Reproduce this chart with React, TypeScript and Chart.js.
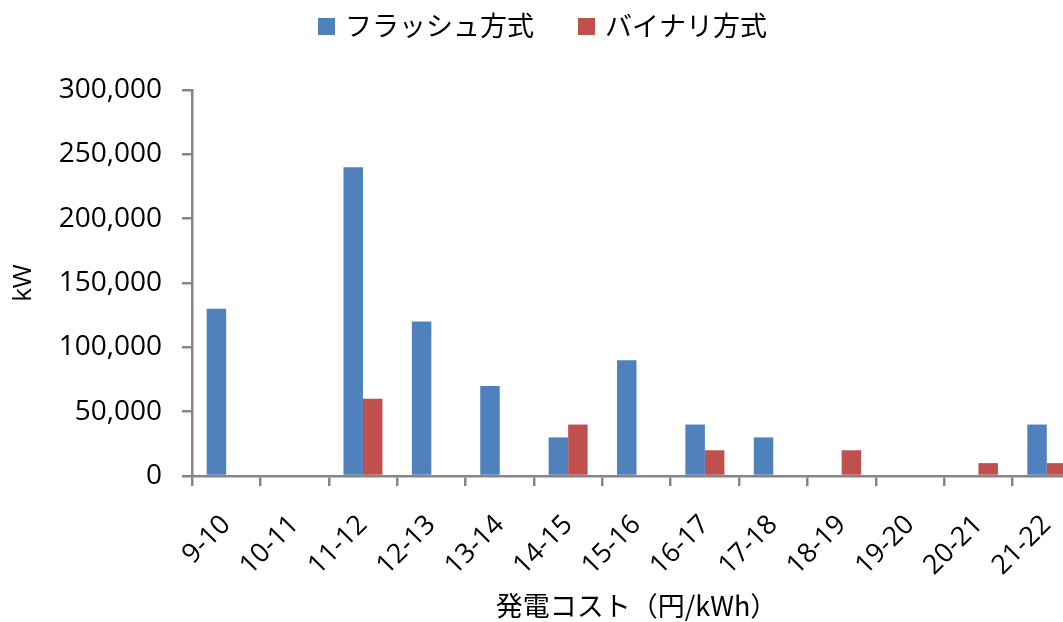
import React, { useEffect, useRef } from 'react';
import { Chart, registerables } from 'chart.js';

Chart.register(...registerables);

const categories = ['9-10', '10-11', '11-12', '12-13', '13-14', '14-15', '15-16', '16-17', '17-18', '18-19', '19-20', '20-21', '21-22'];
const flashValues = [130000, 0, 240000, 120000, 70000, 30000, 90000, 40000, 30000, 0, 0, 0, 40000];
const binaryValues = [0, 0, 60000, 0, 0, 40000, 0, 20000, 0, 20000, 0, 10000, 10000];
const seriesNames = ['フラッシュ方式', 'バイナリ方式'];
const seriesColors = ['#4F81BD', '#C0504D'];
const yMin = 0;
const yMax = 300000;
const yStep = 50000;
const xTitle = '発電コスト（円/kWh）';
const yTitle = 'kW';

const axisColor = '#868686';
const latin = '"Open Sans", "Noto Sans CJK JP", sans-serif';
const cjk = '"Noto Sans CJK JP", sans-serif';

const legendPlugin = {
  id: 'customLegend',
  afterDraw(chart: any) {
    const ctx = chart.ctx;
    ctx.save();
    ctx.font = '27px ' + cjk;
    const box = 17;
    const gapText = 10;
    const gapItem = 44;
    const items = chart.data.datasets.map((ds: any) => ({
      label: ds.label,
      color: ds.backgroundColor,
      w: ctx.measureText(ds.label).width,
    }));
    let x = 318;
    ctx.textBaseline = 'middle';
    ctx.textAlign = 'left';
    items.forEach((it: any) => {
      ctx.fillStyle = it.color;
      ctx.fillRect(x, 18, box, box);
      ctx.fillStyle = '#000';
      ctx.fillText(it.label, x + box + gapText, 26);
      x += box + gapText + it.w + gapItem;
    });
    ctx.restore();
  },
};

export default function App() {
  const ref = useRef<HTMLCanvasElement>(null);

  useEffect(() => {
    if (!ref.current) return;
    const chart = new Chart(ref.current, {
      type: 'bar',
      data: {
        labels: categories,
        datasets: [
          {
            label: seriesNames[0],
            data: flashValues,
            backgroundColor: seriesColors[0],
            borderWidth: 0,
            barPercentage: 1,
            categoryPercentage: 0.57,
          },
          {
            label: seriesNames[1],
            data: binaryValues,
            backgroundColor: seriesColors[1],
            borderWidth: 0,
            barPercentage: 1,
            categoryPercentage: 0.57,
          },
        ],
      },
      options: {
        responsive: false,
        animation: false,
        layout: { padding: { top: 90, right: 19, bottom: 0, left: 0 } },
        plugins: {
          legend: { display: false },
          tooltip: { enabled: false },
        },
        scales: {
          x: {
            grid: {
              display: true,
              drawOnChartArea: false,
              drawTicks: true,
              tickLength: 10,
              color: axisColor,
              lineWidth: 2.5,
              offset: true,
            },
            border: { display: true, color: axisColor, width: 2.5 },
            ticks: {
              color: '#000',
              font: { size: 27, family: latin },
              minRotation: 45,
              maxRotation: 45,
              padding: 23,
              autoSkip: false,
            },
            title: {
              display: true,
              text: xTitle,
              color: '#000',
              font: { size: 27, family: cjk },
              padding: { top: 0, bottom: 0 },
            },
            afterFit: (s: any) => {
              s.height = 146;
            },
          },
          y: {
            min: yMin,
            max: yMax,
            grid: {
              drawOnChartArea: false,
              drawTicks: true,
              tickLength: 10,
              color: axisColor,
              lineWidth: 2.5,
            },
            border: { display: true, color: axisColor, width: 2.5 },
            ticks: {
              stepSize: yStep,
              padding: 20,
              color: '#000',
              font: { size: 28, family: latin },
              callback: (v: any) => Number(v).toLocaleString('en-US'),
            },
            title: {
              display: true,
              text: yTitle,
              color: '#000',
              font: { size: 26, family: latin },
              padding: { top: 8, bottom: 0 },
            },
            afterFit: (s: any) => {
              s.width = 192;
            },
          },
        },
      },
      plugins: [legendPlugin],
    });
    return () => chart.destroy();
  }, []);

  return (
    <div style={{ position: 'absolute', left: 0, top: 0, width: 1063, height: 622, overflow: 'hidden', background: '#fff' }}>
      <canvas ref={ref} width={1100} height={622} style={{ display: 'block', width: 1100, height: 622 }} />
    </div>
  );
}
